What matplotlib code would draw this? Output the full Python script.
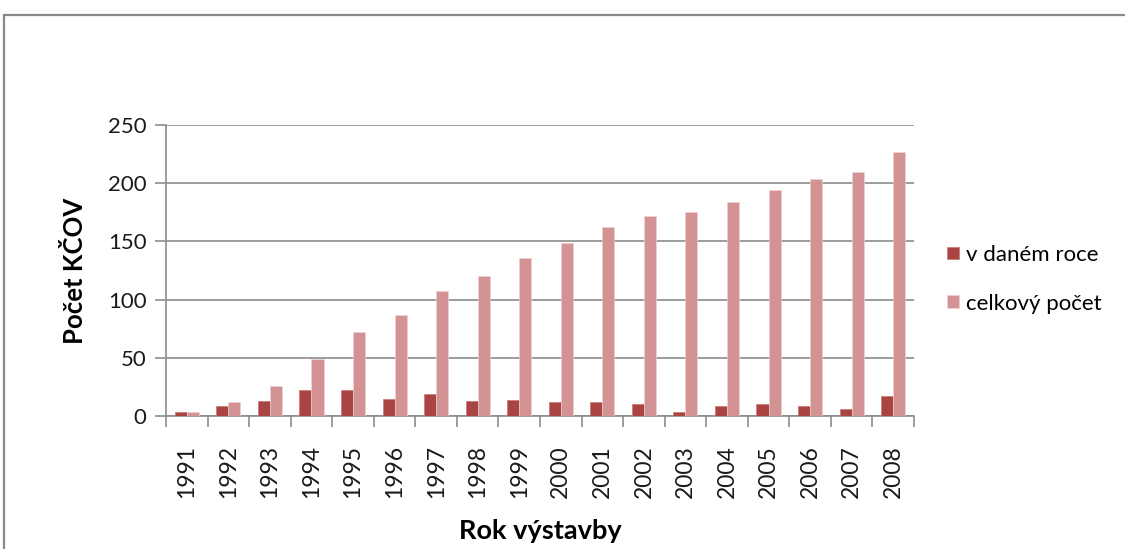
import matplotlib.pyplot as plt
from matplotlib.patches import Rectangle
import numpy as np

years = ["1991", "1992", "1993", "1994", "1995", "1996", "1997", "1998", "1999",
         "2000", "2001", "2002", "2003", "2004", "2005", "2006", "2007", "2008"]
v_danem_roce = [3, 9, 13, 22, 22, 15, 19, 13, 14, 12, 12, 10, 3, 9, 10, 9, 6, 17]
celkovy_pocet = [3, 12, 26, 49, 72, 87, 107, 120, 136, 149, 162, 172, 175, 184, 194, 204, 210, 227]

plt.rcParams['font.family'] = ['Lato', 'DejaVu Sans']

fig = plt.figure(figsize=(11.25, 5.49), dpi=100)
ax = fig.add_axes([0.1476, 0.2423, 0.8124 - 0.1476, 0.7723 - 0.2423])

# outer chart frame (cut off at right and bottom)
fig.patches.append(Rectangle((0.0036, -0.05), 1.1, 0.9727 + 0.05, transform=fig.transFigure,
                             fill=False, edgecolor="#8a8a8a", linewidth=1.6))

x = np.arange(len(years))
w = 0.29
ax.bar(x - w / 2, v_danem_roce, w, color="#a94442", edgecolor="#c87675", linewidth=0.5,
       label="v daném roce", zorder=3)
ax.bar(x + w / 2, celkovy_pocet, w, color="#d39394", edgecolor="#f0d0d0", linewidth=0.5,
       label="celkový počet", zorder=3)

ax.set_xlim(-0.5, len(years) - 0.5)
ax.set_ylim(0, 250)
ax.set_yticks(range(0, 251, 50))
ax.yaxis.grid(True, color="#8c8c8c", linewidth=1.2, zorder=0)

ax.set_xticks(x)
ax.set_xticklabels(years, rotation=90, fontsize=16.5, color="#1a1a1a")
ax.set_xticks(np.arange(-0.5, len(years), 1), minor=True)
ax.tick_params(axis="x", which="major", length=0, pad=21)
ax.tick_params(axis="x", which="minor", length=8, width=1.2, color="#8c8c8c", direction="out")
ax.tick_params(axis="y", length=8, width=1.2, color="#8c8c8c", labelsize=16,
               labelcolor="#1a1a1a", pad=6)

for s in ["top", "right"]:
    ax.spines[s].set_visible(False)
for s in ["left", "bottom"]:
    ax.spines[s].set_color("#8c8c8c")
    ax.spines[s].set_linewidth(1.2)

ax.set_ylabel("Počet KČOV", fontsize=18.5, fontweight="bold", labelpad=15)
ax.set_xlabel("Rok výstavby", fontsize=19.5, fontweight="bold", labelpad=15)

ax.legend(loc="center left", bbox_to_anchor=(1.018, 0.47), frameon=False, fontsize=16,
          handlelength=0.5, handleheight=0.5, handletextpad=0.35, labelspacing=1.3)

fig.savefig("out.png", dpi=100)
